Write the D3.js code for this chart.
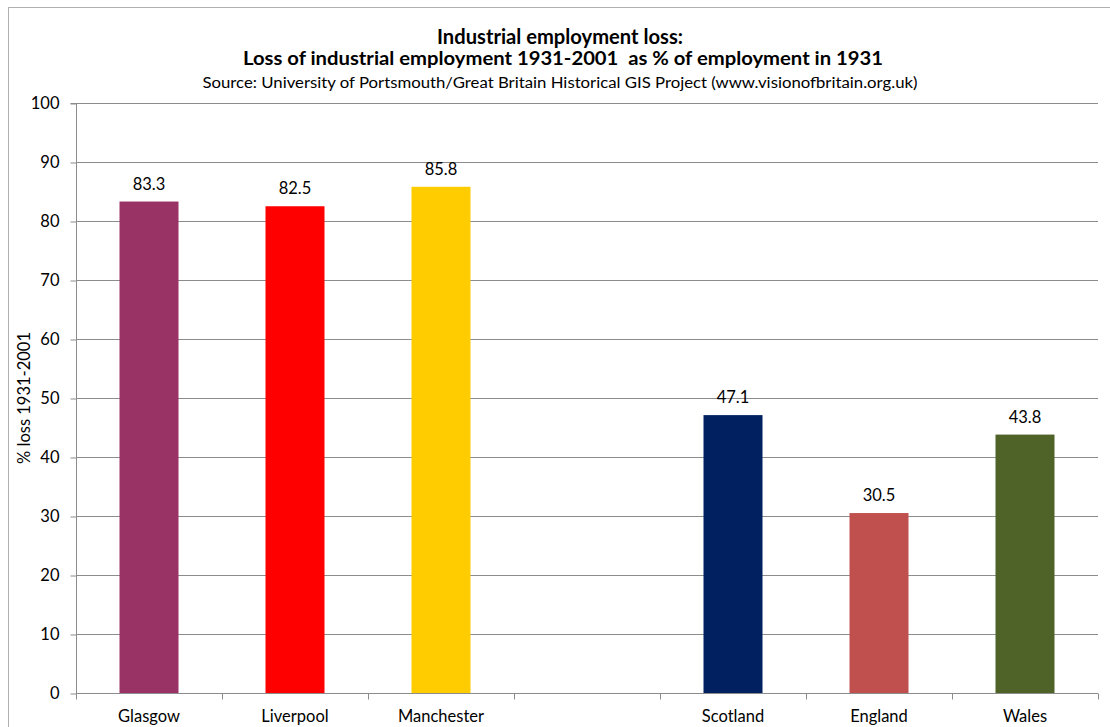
<!DOCTYPE html>
<html>
<head>
<meta charset="utf-8">
<script src="https://cdn.jsdelivr.net/npm/d3@7"></script>
<style>
  body { margin: 0; background: #fff; }
  svg text { font-family: Lato, "Open Sans", sans-serif; fill: #000; }
</style>
</head>
<body>
<svg id="chart" width="1110" height="727"></svg>
<script>
// data
const categories = ["Glasgow", "Liverpool", "Manchester", "", "Scotland", "England", "Wales"];
const values = [83.3, 82.5, 85.8, null, 47.1, 30.5, 43.8];
const barColors = ["#993366", "#ff0000", "#ffcc00", "none", "#002060", "#c0504d", "#4f6228"];
const yTicks = [0, 10, 20, 30, 40, 50, 60, 70, 80, 90, 100];

const svg = d3.select("#chart");
const width = 1110, height = 727;
const margin = {top: 103, right: 12, bottom: 34, left: 76};
const fs = "16.5px";

// chart frame
svg.append("rect")
    .attr("x", 8.5).attr("y", 7.5)
    .attr("width", width + 10).attr("height", height + 10)
    .style("fill", "#fff").style("stroke", "#b0b0b0").style("stroke-width", 1);

const x = d3.scaleBand()
    .domain(d3.range(categories.length))
    .range([margin.left, width - margin.right]);
const step = x.step();
const x0 = margin.left;
const barW = 59;

const y = d3.scaleLinear().domain([0, 100]).range([height - margin.bottom, margin.top]);

// gridlines
svg.append("g")
    .selectAll("line")
    .data(yTicks.filter(d => d > 0))
    .enter().append("line")
    .attr("x1", x0).attr("x2", x0 + step * categories.length)
    .attr("y1", d => Math.round(y(d)) + 0.5).attr("y2", d => Math.round(y(d)) + 0.5)
    .style("stroke", "#8c8c8c").style("stroke-width", 1);

const pts = values.map((v, i) => ({v, i})).filter(d => d.v != null);

// bars
svg.append("g")
    .selectAll("rect")
    .data(pts)
    .enter().append("rect")
    .attr("x", d => x(d.i) + (step - barW) / 2)
    .attr("width", barW)
    .attr("y", d => y(d.v))
    .attr("height", d => y(0) - y(d.v))
    .style("fill", d => barColors[d.i]);

// value labels
svg.append("g")
    .selectAll("text")
    .data(pts)
    .enter().append("text")
    .attr("x", d => x(d.i) + step / 2)
    .attr("y", d => y(d.v) - 12)
    .attr("text-anchor", "middle")
    .style("font-size", fs)
    .text(d => d.v.toFixed(1));

// y axis
const yAxis = d3.axisLeft(y).tickValues(yTicks).tickSize(6).tickPadding(11);
const gy = svg.append("g")
    .attr("transform", "translate(" + (x0 + 0.5) + ",0.5)")
    .call(yAxis);
gy.selectAll("path, line").style("stroke", "#8c8c8c");
gy.select(".domain").attr("d", "M-6," + y(100) + "H0V" + y(0));
gy.selectAll("text").style("font-size", fs).style("font-family", "Lato, sans-serif");

// x axis
const gx = svg.append("g")
    .attr("transform", "translate(0," + (Math.round(y(0)) + 0.5) + ")");
gx.append("line")
    .attr("x1", x0).attr("x2", x0 + step * categories.length)
    .style("stroke", "#8c8c8c");
gx.selectAll(".tk")
    .data(d3.range(categories.length + 1))
    .enter().append("line")
    .attr("class", "tk")
    .attr("x1", i => Math.round(x0 + step * i) + 0.5)
    .attr("x2", i => Math.round(x0 + step * i) + 0.5)
    .attr("y1", 0).attr("y2", 6)
    .style("stroke", "#8c8c8c");
gx.selectAll("text")
    .data(categories)
    .enter().append("text")
    .attr("x", (d, i) => x(i) + step / 2)
    .attr("y", 28)
    .attr("text-anchor", "middle")
    .style("font-size", fs)
    .text(d => d);

// y label
svg.append("text")
    .attr("transform", "translate(30," + y(50) + ") rotate(-90)")
    .attr("text-anchor", "middle")
    .style("font-size", fs)
    .text("% loss 1931-2001");

// titles
svg.append("text")
    .attr("x", 560).attr("y", 44)
    .attr("text-anchor", "middle")
    .attr("textLength", 246).attr("lengthAdjust", "spacingAndGlyphs")
    .style("font-size", "20px").style("font-weight", "bold")
    .text("Industrial employment loss:");
svg.append("text")
    .attr("x", 563).attr("y", 65)
    .attr("text-anchor", "middle")
    .attr("textLength", 640).attr("lengthAdjust", "spacingAndGlyphs")
    .style("font-size", "19px").style("font-weight", "bold")
    .style("white-space", "pre")
    .text("Loss of industrial employment 1931-2001  as % of employment in 1931");
svg.append("text")
    .attr("x", 560).attr("y", 88)
    .attr("text-anchor", "middle")
    .attr("textLength", 715).attr("lengthAdjust", "spacingAndGlyphs")
    .style("font-size", "15.5px")
    .text("Source: University of Portsmouth/Great Britain Historical GIS Project (www.visionofbritain.org.uk)");
</script>
</body>
</html>
